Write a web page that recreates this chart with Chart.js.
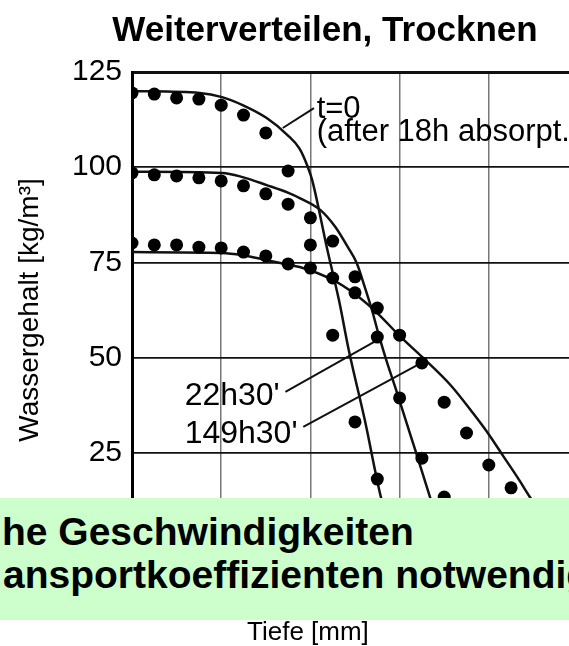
<!DOCTYPE html>
<html>
<head>
<meta charset="utf-8">
<title>Weiterverteilen, Trocknen</title>
<script src="https://cdn.jsdelivr.net/npm/chart.js@4.4.1/dist/chart.umd.min.js"></script>
<style>
  html, body { margin: 0; padding: 0; background: #fff; overflow: hidden; }
  #wrap { position: relative; width: 650px; height: 646px; }
  #banner {
    position: absolute; left: 0; top: 498px; width: 650px; height: 122px;
    background: #ccffcc; overflow: hidden; white-space: nowrap;
    font: bold 39px "Liberation Sans", Arial, sans-serif; color: #000;
  }
  #banner div { position: absolute; left: 2px; line-height: 43px; }
  #xtitle {
    position: absolute; left: 247px; top: 616px; line-height: 30px;
    font: 26px "Liberation Sans", Arial, sans-serif; color: #000;
  }
</style>
</head>
<body>
<div id="wrap">
  <canvas id="chart"></canvas>
  <div id="banner">
    <div style="top:12px">he Geschwindigkeiten</div>
    <div style="top:55px; left:3px">ansportkoeffizienten notwendig</div>
  </div>
  <div id="xtitle">Tiefe [mm]</div>
</div>
<script>
// Messpunkte (Tiefe in mm, Wassergehalt in kg/m3)
const depthT0 = [0, 2.5, 5, 7.5, 10, 12.5, 15, 17.5, 20, 22.5, 25, 27.5];
const measT0 = [119.5, 119.2, 118.2, 117.9, 116.3, 113.7, 109.0, 99.0, 79.6, 55.9, 33.1, 18.1];

const depth22 = [0, 2.5, 5, 7.5, 10, 12.5, 15, 17.5, 20, 22.5, 25, 27.5, 30, 32.5, 35];
const meas22 = [98.5, 98.0, 97.7, 97.2, 96.4, 95.1, 93.0, 90.3, 86.7, 80.6, 71.2, 55.4, 39.4, 23.6, 13.4];

const depth149 = [0, 2.5, 5, 7.5, 10, 12.5, 15, 17.5, 20, 22.5, 25, 27.5, 30, 32.5, 35, 37.5, 40, 42.5];
const meas149 = [80.1, 79.6, 79.6, 79.0, 78.8, 77.7, 76.7, 74.6, 73.5, 70.9, 67.0, 63.0, 55.9, 48.6, 38.3, 30.2, 21.8, 15.8];

// berechnete Kurven
const calcT0X = [0, 7.6, 10.1, 12.4, 15.1, 17.4, 18.8, 19.7, 20.2, 21.9, 23.2, 24.3, 26.1, 27.9, 28.5];
const calcT0Y = [120.0, 119.5, 118.4, 116.3, 112.9, 108.5, 104.8, 100.1, 96.6, 78.3, 65.1, 52.0, 33.6, 13.4, 8.7];

const calc22X = [0, 10.1, 12.4, 15.1, 17.6, 18.8, 21.1, 22.8, 24.2, 25.2, 26.1, 26.9, 27.6, 28.5, 29.5, 31.5, 33.4, 34.0];
const calc22Y = [98.8, 98.5, 97.4, 95.3, 93.2, 91.9, 88.8, 84.3, 79.0, 74.8, 68.5, 62.5, 56.5, 49.4, 42.3, 27.6, 13.4, 8.7];

const calc149X = [0, 10.1, 12.4, 15.1, 17.7, 18.8, 22.5, 24.8, 27.5, 30.0, 32.6, 35.7, 38.2, 40.1, 41.6, 43.2, 44.6, 45.5];
const calc149Y = [77.7, 77.5, 76.9, 75.6, 74.3, 73.8, 70.4, 67.0, 61.7, 55.7, 50.0, 42.8, 35.5, 29.5, 24.2, 18.6, 13.4, 10.2];

// Hinweislinien zu den Beschriftungen
const leaderT0X = [16.9, 20.4];
const leaderT0Y = [110.3, 115.5];
const leader22X = [17.2, 27.5];
const leader22Y = [41.0, 54.6];
const leader149X = [19.2, 32.6];
const leader149Y = [31.8, 48.8];

const yTicks = [0, 25, 50, 75, 100, 125];

const pts = (xs, ys) => xs.map((x, i) => ({ x: x, y: ys[i] }));

const notes = [
    { text: "t=0", x: 20.7, y: 115.2, size: 31 },
    { text: "(after 18h absorpt.", x: 20.7, y: 109.2, size: 31 },
    { text: "22h30'", x: 5.9, y: 40.0, size: 32 },
    { text: "149h30'", x: 5.9, y: 30.0, size: 32 },
];

const notesPlugin = {
    id: "notes",
    afterDatasetsDraw(chart) {
        const { ctx, scales: { x, y } } = chart;
        ctx.save();
        ctx.fillStyle = "#000";
        ctx.textBaseline = "middle";
        notes.forEach((n) => {
            ctx.font = n.size + 'px "Liberation Sans", Arial, sans-serif';
            ctx.fillText(n.text, x.getPixelForValue(n.x), y.getPixelForValue(n.y));
        });
        ctx.restore();
    },
};

const lineStyle = {
    showLine: true, pointRadius: 0, borderColor: "#111", borderWidth: 2.5,
    cubicInterpolationMode: "monotone", fill: false,
};
const dotStyle = {
    showLine: false, pointRadius: 6.5, pointBackgroundColor: "#000",
    pointBorderColor: "#000", borderWidth: 0,
};
const leaderStyle = {
    showLine: true, pointRadius: 0, borderColor: "#111", borderWidth: 2, tension: 0,
};

Chart.defaults.font.family = '"Liberation Sans", Arial, sans-serif';
Chart.defaults.color = "#000";

new Chart(document.getElementById("chart"), {
    type: "scatter",
    data: {
        datasets: [
            { label: "t=0", data: pts(depthT0, measT0), ...dotStyle },
            { label: "22h30'", data: pts(depth22, meas22), ...dotStyle },
            { label: "149h30'", data: pts(depth149, meas149), ...dotStyle },
            { label: "t=0 ber.", data: pts(calcT0X, calcT0Y), ...lineStyle },
            { label: "22h30' ber.", data: pts(calc22X, calc22Y), ...lineStyle },
            { label: "149h30' ber.", data: pts(calc149X, calc149Y), ...lineStyle },
            { label: "l1", data: pts(leaderT0X, leaderT0Y), ...leaderStyle },
            { label: "l2", data: pts(leader22X, leader22Y), ...leaderStyle },
            { label: "l3", data: pts(leader149X, leader149Y), ...leaderStyle },
        ],
    },
    options: {
        responsive: true,
        maintainAspectRatio: false,
        animation: false,
        // links/rechts gleich, damit der Titel bei x=325 zentriert ist
        layout: { padding: { left: 72, right: 72 } },
        plugins: {
            legend: { display: false },
            tooltip: { enabled: false },
            title: {
                display: true,
                text: "Weiterverteilen, Trocknen",
                color: "#000",
                font: { size: 35, weight: "bold" },
                padding: { top: 10, bottom: 20 },
            },
        },
        scales: {
            x: {
                type: "linear",
                min: 0,
                max: 50,
                ticks: { display: false, stepSize: 10 },
                grid: { color: "#777", lineWidth: 1.5, drawTicks: false },
                border: { display: false },
                afterFit(s) { s.height = 98; },
            },
            y: {
                min: 0,
                max: 125,
                afterBuildTicks(s) { s.ticks = yTicks.map((v) => ({ value: v })); },
                ticks: { padding: 10, color: "#000", font: { size: 30 } },
                grid: {
                    drawTicks: false,
                    color: "#111",
                    lineWidth: (c) => (c.tick && c.tick.value === 125 ? 3 : 1.8),
                },
                border: { color: "#000", width: 3 },
                title: {
                    display: true,
                    text: "Wassergehalt [kg/m³]",
                    color: "#000",
                    font: { size: 28 },
                    // Achsenbox beginnt bei x=72, Titel soll bei x~30 stehen
                    padding: { top: -59, bottom: 0 },
                },
                afterFit(s) { s.width = 60; },
            },
        },
    },
    plugins: [notesPlugin],
});
</script>
</body>
</html>
